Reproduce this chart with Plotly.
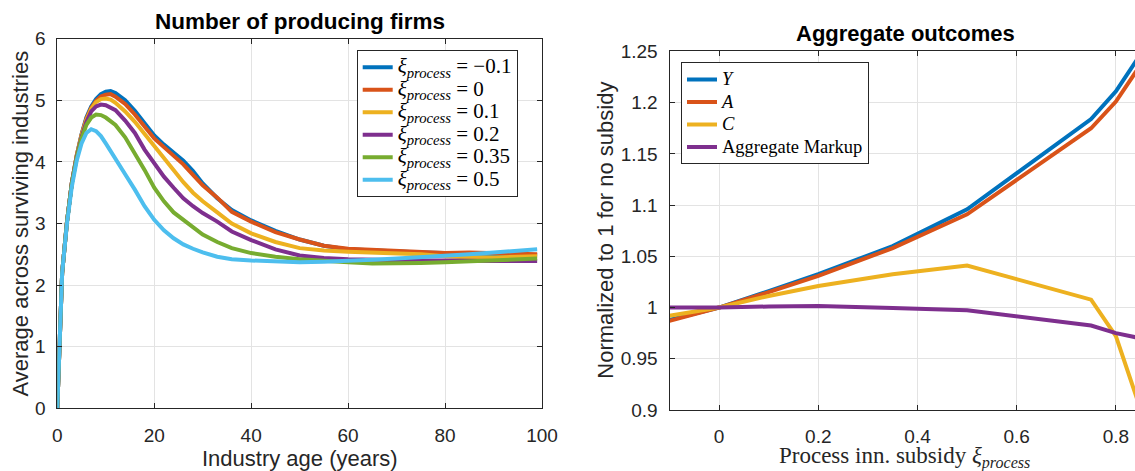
import plotly.graph_objects as go

# ---------------- data: left panel ----------------
ages = [0, 1, 2, 3, 4, 5, 6, 7, 8, 9, 10, 11, 12, 14, 16, 18, 20, 22, 24, 26, 28, 30,
        33, 36, 40, 45, 50, 55, 60, 65, 70, 75, 80, 85, 90, 95, 99]

firms_m010 = [0, 2.2, 3.03, 3.66, 4.1, 4.45, 4.72, 4.9, 5.02, 5.1, 5.14, 5.15, 5.12, 5.0, 4.83,
              4.62, 4.43, 4.28, 4.15, 4.02, 3.85, 3.65, 3.41, 3.22, 3.05, 2.88, 2.74, 2.64,
              2.58, 2.56, 2.55, 2.53, 2.52, 2.51, 2.5, 2.49, 2.49]
firms_000 = [0, 2.2, 3.03, 3.66, 4.1, 4.44, 4.7, 4.88, 4.99, 5.06, 5.09, 5.1, 5.06, 4.94, 4.77,
             4.57, 4.38, 4.24, 4.1, 3.96, 3.79, 3.62, 3.42, 3.19, 3.03, 2.86, 2.74, 2.64,
             2.59, 2.57, 2.56, 2.53, 2.52, 2.53, 2.52, 2.51, 2.5]
firms_010 = [0, 2.2, 3.03, 3.66, 4.1, 4.43, 4.68, 4.86, 4.97, 5.02, 5.03, 5.01, 4.96, 4.82, 4.65,
             4.45, 4.25, 4.07, 3.87, 3.67, 3.5, 3.36, 3.18, 3.0, 2.84, 2.7, 2.6, 2.56,
             2.54, 2.53, 2.52, 2.5, 2.47, 2.45, 2.45, 2.46, 2.47]
firms_020 = [0, 2.2, 3.03, 3.66, 4.08, 4.4, 4.65, 4.82, 4.9, 4.93, 4.92, 4.88, 4.84, 4.67, 4.47,
             4.2, 3.97, 3.76, 3.58, 3.41, 3.28, 3.17, 3.03, 2.87, 2.73, 2.58, 2.48, 2.44,
             2.42, 2.41, 2.4, 2.4, 2.4, 2.39, 2.39, 2.39, 2.39]
firms_035 = [0, 2.2, 3.03, 3.65, 4.06, 4.38, 4.6, 4.72, 4.77, 4.76, 4.72, 4.66, 4.6, 4.4, 4.15,
             3.87, 3.58, 3.36, 3.18, 3.06, 2.93, 2.82, 2.7, 2.6, 2.52, 2.46, 2.42, 2.39,
             2.37, 2.35, 2.35, 2.36, 2.37, 2.39, 2.4, 2.42, 2.43]
firms_050 = [0, 2.2, 3.0, 3.6, 4.02, 4.3, 4.47, 4.53, 4.5, 4.42, 4.3, 4.18, 4.06, 3.8, 3.55,
             3.28, 3.06, 2.89, 2.76, 2.66, 2.59, 2.53, 2.46, 2.42, 2.4, 2.38, 2.37, 2.38,
             2.39, 2.41, 2.43, 2.45, 2.47, 2.5, 2.53, 2.56, 2.58]

left_series = [firms_m010, firms_000, firms_010, firms_020, firms_035, firms_050]
left_labels = ["\u22120.1", "0", "0.1", "0.2", "0.35", "0.5"]

# ---------------- data: right panel ----------------
subsidy = [-0.1, 0, 0.1, 0.2, 0.35, 0.5, 0.75, 0.8, 0.85]
agg_Y = [0.988, 1.0, 1.016, 1.0325, 1.060, 1.0958, 1.184, 1.211, 1.2475]
agg_A = [0.987, 1.0, 1.015, 1.031, 1.058, 1.091, 1.175, 1.201, 1.237]
agg_C = [0.992, 1.0, 1.0113, 1.021, 1.0325, 1.041, 1.0077, 0.972, 0.9005]
agg_markup = [1.0, 1.0, 1.001, 1.0016, 0.9995, 0.9973, 0.9824, 0.975, 0.970]

right_series = [agg_Y, agg_A, agg_C, agg_markup]
right_labels = ["<i>Y</i>", "<i>A</i>", "<i>C</i>", "Aggregate Markup"]

colors6 = ["#0072BD", "#D95319", "#EDB120", "#7E2F8E", "#77AC30", "#4DBEEE"]

W, H = 1135, 471
SANS = "Liberation Sans, Arial, sans-serif"
SERIF = "Liberation Serif, Times New Roman, serif"
AX = "#262626"
GRID = "#e3e3e3"

fig = go.Figure()

for vals, lab, col in zip(left_series, left_labels, colors6):
    fig.add_trace(go.Scatter(
        x=ages, y=vals, mode="lines", line=dict(color=col, width=4),
        name=('<span style="font-size:21px"><i>\u03be</i><sub><i>process</i></sub>'
              ' = ' + lab + '</span>'),
        xaxis="x", yaxis="y", legend="legend"))

for vals, lab, col in zip(right_series, right_labels, colors6[:4]):
    fig.add_trace(go.Scatter(
        x=subsidy, y=vals, mode="lines", line=dict(color=col, width=4),
        name='<span style="font-size:18.5px">' + lab + '</span>',
        xaxis="x2", yaxis="y2", legend="legend2"))

def px_x(p):
    return p / W

def px_y(p):
    return 1 - p / H

axis_common = dict(
    showline=True, linecolor=AX, linewidth=1, ticks="inside", ticklen=5,
    tickcolor=AX, showgrid=True, gridcolor=GRID, gridwidth=1, zeroline=False,
    automargin=False,
    tickfont=dict(family=SANS, size=19, color=AX),
)

fig.update_layout(
    width=W, height=H, autosize=False,
    margin=dict(l=0, r=0, t=0, b=0, pad=0),
    paper_bgcolor="white", plot_bgcolor="white",
    xaxis=dict(domain=[px_x(57.3), px_x(542)], range=[0, 100], anchor="y",
               tickvals=[0, 20, 40, 60, 80, 100], mirror="ticks",
               ticklabelstandoff=10, **axis_common),
    yaxis=dict(domain=[px_y(408.3), px_y(38.7)], range=[0, 6], anchor="x",
               tickvals=[0, 1, 2, 3, 4, 5, 6], mirror="ticks",
               ticklabelstandoff=7, **axis_common),
    xaxis2=dict(domain=[px_x(669.5), 1.0], range=[-0.1, 0.8385], anchor="y2",
                tickvals=[0, 0.2, 0.4, 0.6, 0.8], mirror="ticks",
                ticklabelstandoff=9, **axis_common),
    yaxis2=dict(domain=[px_y(410), px_y(51.4)], range=[0.9, 1.25], anchor="x2",
                tickvals=[0.9, 0.95, 1, 1.05, 1.1, 1.15, 1.2, 1.25],
                ticktext=["0.9", "0.95", "1", "1.05", "1.1", "1.15", "1.2", "1.25"],
                mirror=False, ticklabelstandoff=7, **axis_common),
    legend=dict(x=px_x(356.7), y=px_y(50), xanchor="left", yanchor="top",
                bgcolor="white", bordercolor=AX, borderwidth=1,
                font=dict(family=SERIF, size=15, color="#000000"),
                tracegroupgap=0, itemwidth=30),
    legend2=dict(x=px_x(681), y=px_y(62.3), xanchor="left", yanchor="top",
                 bgcolor="white", bordercolor=AX, borderwidth=1,
                 font=dict(family=SERIF, size=15, color="#000000"),
                 tracegroupgap=0, itemwidth=30),
    showlegend=True,
)

ann = [
    dict(text="<b>Number of producing firms</b>", x=px_x(299.5), y=px_y(21.3),
         font=dict(family=SANS, size=22.5, color="#000000")),
    dict(text="<b>Aggregate outcomes</b>", x=px_x(905), y=px_y(34),
         font=dict(family=SANS, size=22, color="#000000")),
    dict(text="Industry age (years)", x=px_x(299.5), y=px_y(458.3),
         font=dict(family=SANS, size=22, color=AX)),
    dict(text="Average across surviving industries", x=px_x(20), y=px_y(223.5),
         textangle=-90, font=dict(family=SANS, size=22, color=AX)),
    dict(text="Normalized to 1 for no subsidy", x=px_x(606), y=px_y(230.7),
         textangle=-90, font=dict(family=SANS, size=22, color=AX)),
    dict(text="Process inn. subsidy <i>\u03be</i><sub><i>process</i></sub>",
         x=px_x(904), y=px_y(457.3), font=dict(family=SERIF, size=23, color=AX)),
]
for a in ann:
    a.update(xref="paper", yref="paper", showarrow=False,
             xanchor="center", yanchor="middle")
fig.update_layout(annotations=ann)

fig.write_html("out.html")
